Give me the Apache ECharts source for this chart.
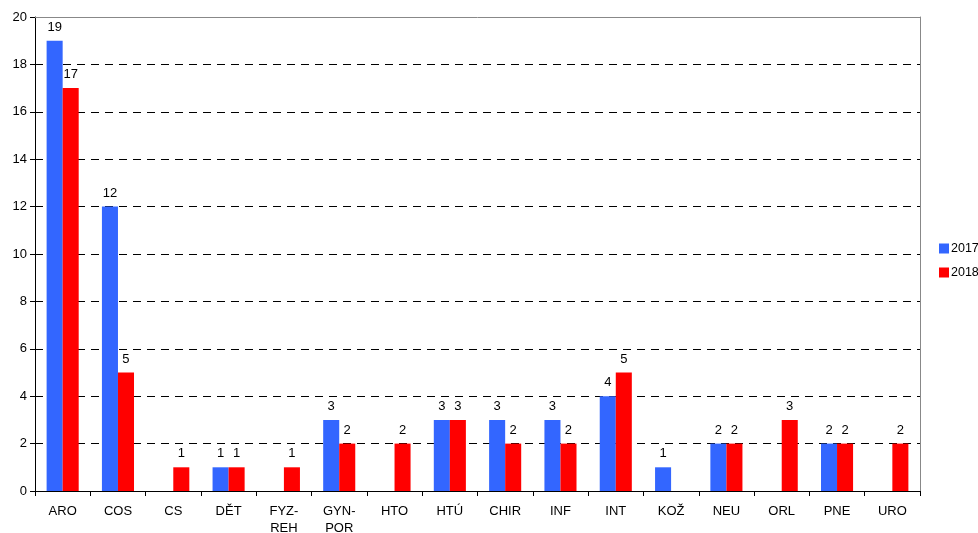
<!DOCTYPE html>
<html><head><meta charset="utf-8">
<script src="https://cdn.jsdelivr.net/npm/echarts@6/dist/echarts.min.js"></script>
<style>html,body{margin:0;padding:0;background:#fff}#c{width:978px;height:533px}</style>
</head><body><div id="c"></div>
<script>
const categories = ['ARO','COS','CS','DĚT','FYZ-\nREH','GYN-\nPOR','HTO','HTÚ','CHIR','INF','INT','KOŽ','NEU','ORL','PNE','URO'];
const values2017 = [19,12,null,1,null,3,null,3,3,3,4,1,2,null,2,null];
const values2018 = [17,5,1,1,1,2,2,3,2,2,5,null,2,3,2,2];
const yTicks = {min:0, max:20, interval:2};

const chart = echarts.init(document.getElementById('c'), null, {renderer:'canvas'});
const font = 'Liberation Sans, Arial, sans-serif';
const lbl = {show:true, position:'top', color:'#000', fontFamily:font, fontSize:13, distance:7};
chart.setOption({
  animation:false,
  grid:{left:35, right:58, top:17, bottom:42, containLabel:false, outerBoundsMode:'none'},
  legend:{orient:'vertical', left:934, top:237, itemWidth:10, itemHeight:10, itemGap:11,
    textStyle:{fontFamily:font, fontSize:12.5, color:'#000', padding:[0,0,0,-3]},
    data:['2017','2018'], icon:'rect'},
  xAxis:[{type:'category', data:categories,
    axisLine:{lineStyle:{color:'#000', width:1}},
    axisTick:{show:true, alignWithLabel:false, length:5, lineStyle:{color:'#000'}},
    axisLabel:{color:'#000', fontFamily:font, fontSize:13, margin:12, lineHeight:17, interval:0}},
    {type:'category', position:'top', data:categories, axisLine:{show:true, onZero:false, lineStyle:{color:'#888'}}, axisTick:{show:false}, axisLabel:{show:false}}],
  yAxis:[{type:'value', min:yTicks.min, max:yTicks.max, interval:yTicks.interval,
    axisLine:{show:true, lineStyle:{color:'#000'}},
    axisTick:{show:true, length:5, lineStyle:{color:'#000'}},
    axisLabel:{color:'#000', fontFamily:font, fontSize:13, margin:8},
    splitLine:{show:true, showMaxLine:false, showMinLine:false, lineStyle:{color:'#000', type:[8,6], width:1}}},
    {type:'value', position:'right', min:yTicks.min, max:yTicks.max, interval:yTicks.interval,
     axisLine:{show:true, onZero:false, lineStyle:{color:'#888'}}, axisTick:{show:false}, axisLabel:{show:false}, splitLine:{show:false}}],
  series:[
    {name:'2017', type:'bar', data:values2017, itemStyle:{color:'#3366FF'}, barGap:'0%', barCategoryGap:'42%', label:lbl},
    {name:'2018', type:'bar', data:values2018, itemStyle:{color:'#FF0000'}, barGap:'0%', barCategoryGap:'42%', label:lbl}
  ]
});
</script></body></html>
